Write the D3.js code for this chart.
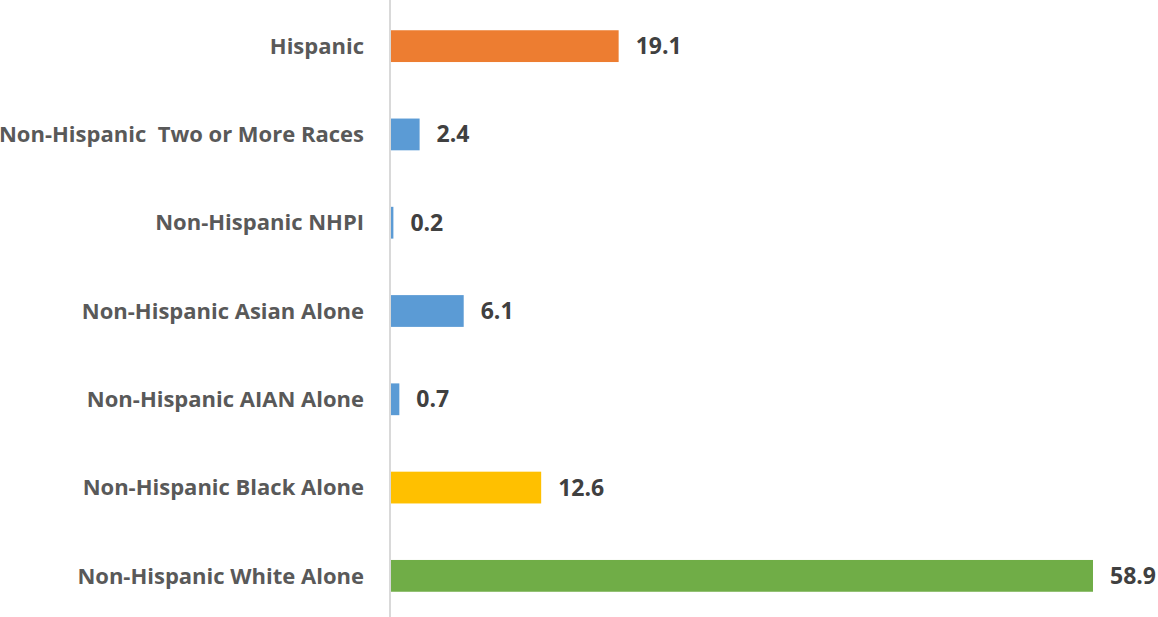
<!DOCTYPE html>
<html>
<head>
<meta charset="utf-8">
<script src="https://cdn.jsdelivr.net/npm/d3@7"></script>
<style>
  html, body { margin: 0; padding: 0; background: #fff; }
  svg { display: block; }
  text { white-space: pre; }
</style>
</head>
<body>
<svg id="chart" width="1158" height="617"></svg>
<script>
const categories = [
  "Hispanic",
  "Non-Hispanic  Two or More Races",
  "Non-Hispanic NHPI",
  "Non-Hispanic Asian Alone",
  "Non-Hispanic AIAN Alone",
  "Non-Hispanic Black Alone",
  "Non-Hispanic White Alone"
];
const values = [19.1, 2.4, 0.2, 6.1, 0.7, 12.6, 58.9];
const valueLabels = ["19.1", "2.4", "0.2", "6.1", "0.7", "12.6", "58.9"];
const barColors = ["#ED7D31", "#5B9BD5", "#5B9BD5", "#5B9BD5", "#5B9BD5", "#FFC000", "#70AD47"];

const svg = d3.select("#chart");
const x0 = 391;
const x = d3.scaleLinear().domain([0, 58.9]).range([x0, 1093]);
const y = d3.scaleBand().domain(categories).range([2, 620]).paddingInner(0.64).paddingOuter(0.32);

const font = "'Open Sans', 'Liberation Sans', Arial, sans-serif";

// bars
svg.append("g").selectAll("rect").data(categories).join("rect")
  .attr("x", x(0))
  .attr("y", d => y(d))
  .attr("width", (d, i) => x(values[i]) - x(0))
  .attr("height", y.bandwidth())
  .attr("fill", (d, i) => barColors[i]);

// axis line
svg.append("line")
  .attr("x1", x0 - 1).attr("x2", x0 - 1)
  .attr("y1", 0).attr("y2", 617)
  .attr("stroke", "#D9D9D9").attr("stroke-width", 2);

// category labels
svg.append("g").selectAll("text").data(categories).join("text")
  .attr("x", 364)
  .attr("y", d => y(d) + y.bandwidth() / 2)
  .attr("dy", "0.35em")
  .attr("text-anchor", "end")
  .attr("font-family", font)
  .attr("font-weight", "bold")
  .attr("font-size", 22)
  .attr("fill", "#595959")
  .text(d => d);

// value labels
svg.append("g").selectAll("text").data(categories).join("text")
  .attr("x", (d, i) => x(values[i]) + 17)
  .attr("y", d => y(d) + y.bandwidth() / 2)
  .attr("dy", "0.35em")
  .attr("font-family", font)
  .attr("font-weight", "bold")
  .attr("font-size", 23)
  .attr("fill", "#404040")
  .text((d, i) => valueLabels[i]);
</script>
</body>
</html>
